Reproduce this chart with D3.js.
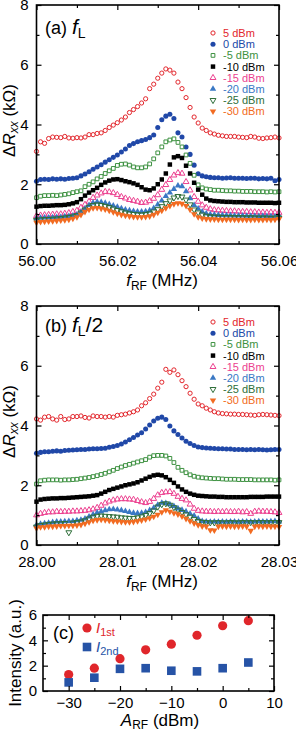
<!DOCTYPE html>
<html><head><meta charset="utf-8">
<script src="https://cdn.jsdelivr.net/npm/d3@7"></script>
<style>body{margin:0;background:#fff}svg{display:block}text{font-family:"Liberation Sans",Arial,sans-serif}</style>
</head><body><svg id="c" width="296" height="732"></svg>
<script>
// ---------- data ----------
const freqA = [56.000,56.001,56.002,56.003,56.004,56.005,56.006,56.007,56.008,56.009,56.010,56.011,56.012,56.013,56.014,56.015,56.016,56.017,56.018,56.019,56.020,56.021,56.022,56.023,56.024,56.025,56.026,56.027,56.028,56.029,56.030,56.031,56.032,56.033,56.034,56.035,56.036,56.037,56.038,56.039,56.040,56.041,56.042,56.043,56.044,56.045,56.046,56.047,56.048,56.049,56.050,56.051,56.052,56.053,56.054,56.055,56.056,56.057,56.058,56.059,56.060];
const freqB = [28.0000,28.0005,28.0010,28.0015,28.0020,28.0025,28.0030,28.0035,28.0040,28.0045,28.0050,28.0055,28.0060,28.0065,28.0070,28.0075,28.0080,28.0085,28.0090,28.0095,28.0100,28.0105,28.0110,28.0115,28.0120,28.0125,28.0130,28.0135,28.0140,28.0145,28.0150,28.0155,28.0160,28.0165,28.0170,28.0175,28.0180,28.0185,28.0190,28.0195,28.0200,28.0205,28.0210,28.0215,28.0220,28.0225,28.0230,28.0235,28.0240,28.0245,28.0250,28.0255,28.0260,28.0265,28.0270,28.0275,28.0280,28.0285,28.0290,28.0295,28.0300];
const powerLabels = ["5 dBm","0 dBm","-5 dBm","-10 dBm","-15 dBm","-20 dBm","-25 dBm","-30 dBm"];

// panel (a): f_L
const a_p5 = [3.1,3.42,3.37,3.53,3.58,3.57,3.56,3.6,3.55,3.54,3.56,3.55,3.58,3.66,3.66,3.7,3.72,3.8,3.9,3.98,4.06,4.15,4.25,4.4,4.5,4.6,4.72,4.86,5.2,5.35,5.55,5.72,5.86,5.82,5.72,5.42,5.2,4.9,4.57,4.25,4.05,3.88,3.8,3.72,3.68,3.64,3.62,3.6,3.6,3.6,3.58,3.57,3.56,3.6,3.58,3.54,3.53,3.55,3.56,3.58,3.55];
const a_0 = [2.1,2.16,2.17,2.16,2.18,2.17,2.18,2.17,2.19,2.2,2.22,2.28,2.34,2.42,2.5,2.58,2.65,2.74,2.82,2.9,2.98,3.08,3.18,3.3,3.36,3.42,3.46,3.5,3.56,3.65,3.9,4.16,4.28,4.34,4.2,3.72,3.58,3.25,3.0,2.64,2.35,2.28,2.25,2.23,2.22,2.22,2.2,2.21,2.22,2.2,2.2,2.2,2.19,2.2,2.2,2.18,2.19,2.18,2.2,2.12,2.16];
const a_m5 = [1.55,1.6,1.62,1.62,1.63,1.62,1.64,1.66,1.68,1.72,1.75,1.78,1.92,2.0,2.08,2.18,2.26,2.36,2.45,2.53,2.63,2.67,2.68,2.64,2.58,2.55,2.55,2.58,2.68,2.85,3.05,3.25,3.42,3.48,3.52,3.4,3.25,2.98,2.7,2.3,1.98,1.88,1.84,1.82,1.8,1.8,1.79,1.78,1.78,1.77,1.77,1.76,1.76,1.76,1.75,1.75,1.75,1.74,1.75,1.74,1.75];
const a_m10 = [1.25,1.27,1.28,1.28,1.29,1.3,1.3,1.31,1.33,1.36,1.4,1.5,1.62,1.72,1.8,1.88,1.98,2.06,2.12,2.16,2.17,2.14,2.1,2.07,2.03,1.98,1.9,1.82,1.8,1.86,2.0,2.16,2.36,2.66,2.9,2.94,2.88,2.62,2.36,2.05,1.82,1.65,1.52,1.46,1.44,1.43,1.42,1.41,1.41,1.4,1.4,1.4,1.39,1.39,1.39,1.38,1.38,1.38,1.38,1.37,1.38];
const a_m15 = [0.94,0.96,0.97,0.98,0.99,1.0,1.0,1.02,1.04,1.08,1.12,1.22,1.32,1.42,1.55,1.63,1.7,1.75,1.74,1.71,1.65,1.58,1.53,1.48,1.45,1.42,1.38,1.39,1.44,1.52,1.64,1.82,1.98,2.15,2.3,2.38,2.36,2.08,1.8,1.58,1.42,1.3,1.22,1.17,1.14,1.13,1.12,1.11,1.1,1.1,1.09,1.08,1.08,1.07,1.07,1.06,1.06,1.05,1.06,1.05,1.05];
const a_m20 = [0.86,0.87,0.88,0.88,0.89,0.9,0.9,0.92,0.93,0.95,0.98,1.06,1.18,1.3,1.38,1.41,1.4,1.37,1.33,1.28,1.24,1.19,1.15,1.12,1.1,1.08,1.08,1.09,1.12,1.2,1.32,1.45,1.6,1.72,1.84,1.95,1.93,1.76,1.53,1.3,1.18,1.08,1.02,0.99,0.98,0.97,0.97,0.96,0.96,0.95,0.95,0.95,0.94,0.94,0.94,0.93,0.94,0.93,0.93,0.92,0.94];
const a_m25 = [0.8,0.82,0.83,0.83,0.84,0.85,0.86,0.88,0.9,0.92,0.96,1.05,1.15,1.24,1.3,1.32,1.3,1.27,1.23,1.18,1.13,1.09,1.05,1.02,1.0,0.99,0.98,1.0,1.02,1.08,1.16,1.26,1.36,1.45,1.55,1.6,1.58,1.48,1.32,1.15,1.05,0.98,0.94,0.92,0.91,0.91,0.9,0.9,0.9,0.89,0.89,0.89,0.88,0.89,0.88,0.88,0.88,0.88,0.87,0.88,0.88];
const a_m30 = [0.72,0.74,0.75,0.76,0.77,0.78,0.79,0.8,0.82,0.85,0.9,0.98,1.08,1.15,1.2,1.21,1.19,1.16,1.12,1.07,1.02,0.98,0.95,0.93,0.91,0.9,0.9,0.91,0.93,0.98,1.05,1.12,1.2,1.28,1.34,1.37,1.35,1.28,1.15,1.0,0.9,0.86,0.84,0.83,0.83,0.82,0.82,0.82,0.82,0.82,0.81,0.82,0.81,0.81,0.82,0.81,0.81,0.82,0.81,0.82,0.84];

// panel (b): f_L/2
const b_p5 = [4.22,4.18,4.28,4.3,4.22,4.18,4.3,4.2,4.22,4.3,4.3,4.32,4.27,4.25,4.32,4.3,4.3,4.28,4.3,4.28,4.34,4.36,4.38,4.42,4.46,4.52,4.66,4.76,4.9,5.05,5.25,5.45,5.88,5.78,5.86,5.7,5.5,5.3,5.08,4.88,4.72,4.66,4.58,4.52,4.46,4.42,4.4,4.39,4.38,4.38,4.37,4.37,4.36,4.35,4.34,4.36,4.37,4.36,4.35,4.34,4.33];
const b_0 = [3.07,3.1,3.12,3.12,3.14,3.15,3.14,3.16,3.17,3.18,3.19,3.2,3.2,3.21,3.22,3.22,3.23,3.24,3.27,3.3,3.33,3.38,3.45,3.52,3.6,3.68,3.76,3.88,4.02,4.15,4.24,4.28,4.2,3.98,3.82,3.7,3.58,3.47,3.4,3.33,3.28,3.26,3.25,3.24,3.23,3.22,3.22,3.21,3.21,3.2,3.2,3.2,3.19,3.2,3.19,3.2,3.19,3.18,3.19,3.2,3.2];
const b_m5 = [2.04,2.15,2.17,2.18,2.18,2.18,2.17,2.18,2.18,2.19,2.2,2.22,2.24,2.26,2.29,2.32,2.36,2.4,2.45,2.5,2.56,2.61,2.66,2.7,2.74,2.78,2.82,2.86,2.94,2.99,3.0,3.0,2.98,2.9,2.76,2.6,2.5,2.42,2.35,2.3,2.27,2.25,2.24,2.23,2.22,2.22,2.21,2.2,2.2,2.2,2.19,2.19,2.19,2.19,2.18,2.18,2.18,2.18,2.18,2.17,2.18];
const b_m10 = [1.45,1.52,1.54,1.55,1.56,1.56,1.57,1.57,1.58,1.59,1.6,1.61,1.62,1.63,1.65,1.67,1.72,1.78,1.84,1.88,1.92,1.96,2.0,2.03,2.06,2.1,2.16,2.22,2.28,2.33,2.35,2.33,2.27,2.18,2.08,1.96,1.86,1.78,1.72,1.68,1.65,1.64,1.63,1.62,1.62,1.61,1.61,1.6,1.6,1.6,1.6,1.6,1.6,1.61,1.61,1.61,1.61,1.62,1.62,1.62,1.62];
const b_m15 = [1.0,1.05,1.08,1.1,1.1,1.12,1.11,1.12,1.12,1.13,1.13,1.14,1.15,1.17,1.2,1.25,1.32,1.4,1.46,1.5,1.53,1.54,1.54,1.53,1.52,1.48,1.44,1.41,1.45,1.55,1.67,1.75,1.77,1.78,1.72,1.62,1.55,1.5,1.36,1.22,1.15,1.13,1.12,1.12,1.11,1.12,1.11,1.12,1.11,1.11,1.12,1.1,1.11,1.05,1.12,1.13,1.12,1.12,1.11,1.1,1.08];
const b_m20 = [0.67,0.7,0.72,0.74,0.76,0.78,0.78,0.79,0.8,0.8,0.82,0.84,0.88,0.95,1.02,1.08,1.12,1.16,1.19,1.2,1.18,1.16,1.13,1.1,1.07,1.06,1.07,1.1,1.16,1.24,1.34,1.41,1.4,1.36,1.3,1.22,1.17,1.12,1.05,0.98,0.88,0.8,0.78,0.77,0.78,0.77,0.78,0.77,0.78,0.78,0.77,0.78,0.78,0.77,0.78,0.79,0.78,0.78,0.79,0.8,0.78];
const b_m25 = [0.61,0.66,0.68,0.7,0.71,0.72,0.72,0.73,0.42,0.74,0.76,0.78,0.82,0.88,0.94,0.97,0.98,0.97,0.96,0.95,0.94,0.92,0.91,0.9,0.9,0.92,0.95,1.0,1.06,1.15,1.28,1.36,1.39,1.34,1.26,1.18,1.1,1.02,0.94,0.86,0.8,0.77,0.76,0.75,0.75,0.76,0.75,0.75,0.76,0.75,0.75,0.76,0.75,0.76,0.75,0.76,0.76,0.75,0.76,0.76,0.76];
const b_m30 = [0.56,0.6,0.6,0.62,0.62,0.63,0.64,0.64,0.65,0.65,0.66,0.68,0.72,0.77,0.82,0.84,0.85,0.84,0.82,0.8,0.79,0.78,0.77,0.77,0.78,0.8,0.83,0.86,0.9,0.95,1.02,1.1,1.17,1.12,1.07,1.03,0.96,0.88,0.8,0.73,0.67,0.63,0.62,0.5,0.49,0.62,0.63,0.62,0.63,0.62,0.62,0.63,0.62,0.48,0.62,0.63,0.62,0.63,0.62,0.62,0.61];

// panel (c)
const ampRF = [-30,-25,-20,-15,-10,-5,0,5];
const i1st = [1.3,1.8,2.55,3.25,3.7,4.4,5.15,5.55];
const i2nd = [0.68,1.05,1.75,1.8,1.6,1.55,1.8,2.25];

// ticks
const xTicksA = [56.00,56.02,56.04,56.06], xMinorA = [56.01,56.03,56.05];
const xTicksB = [28.00,28.01,28.02,28.03], xMinorB = [28.005,28.015,28.025];
const yTicksAB = [0,2,4,6,8], yMinorAB = [1,3,5,7];
const xTicksC = [-30,-20,-10,0,10], xMinorC = [-25,-15,-5,5];
const yTicksC = [0,2,4,6], yMinorC = [1,3,5];

// ---------- styling ----------
const styles = [
  {color:"#e3262c", shape:"circle",   filled:false},
  {color:"#2048a8", shape:"circle",   filled:true},
  {color:"#3d9140", shape:"square",   filled:false},
  {color:"#000000", shape:"square",   filled:true},
  {color:"#ec3f8f", shape:"triangle", filled:false},
  {color:"#3a78c4", shape:"triangle", filled:true},
  {color:"#2f6f3a", shape:"tridown",  filled:false},
  {color:"#f26b21", shape:"tridown",  filled:true}
];
const svg = d3.select("#c");

function symPath(shape, filled){
  if (shape==="circle") return d3.symbol(d3.symbolCircle, filled?20:14)();
  if (shape==="square") return d3.symbol(d3.symbolSquare, filled?20:14)();
  return d3.symbol(d3.symbolTriangle, filled?18:15)();
}
function drawMark(g, st, px, py){
  const p = g.append("path").attr("d", symPath(st.shape, st.filled))
    .attr("transform", `translate(${px},${py})` + (st.shape==="tridown"?" rotate(180)":""));
  if (st.filled) p.attr("fill", st.color).attr("stroke","none");
  else p.attr("fill","none").attr("stroke", st.color).attr("stroke-width",1);
}

function frame(L,R,T,B, xs, ys, xMaj, xMin, yMaj, yMin, xFmt, xPad, yPad){
  const g = svg.append("g");
  const ax = (gen, tr) => g.append("g").attr("transform", tr).call(gen)
     .call(s=>s.select(".domain").remove())
     .call(s=>s.selectAll("line").attr("stroke","#000").attr("stroke-width",1.2))
     .call(s=>s.selectAll("text").attr("font-size",15).attr("fill","#000").attr("font-family","Liberation Sans, Arial, sans-serif"));
  ax(d3.axisBottom(xs).tickValues(xMaj).tickSize(-5).tickPadding(xPad).tickFormat(xFmt), `translate(0,${B})`);
  ax(d3.axisBottom(xs).tickValues(xMin).tickSize(-3).tickFormat(""), `translate(0,${B})`);
  ax(d3.axisTop(xs).tickValues(xMaj).tickSize(-5).tickFormat(""), `translate(0,${T})`);
  ax(d3.axisTop(xs).tickValues(xMin).tickSize(-3).tickFormat(""), `translate(0,${T})`);
  ax(d3.axisLeft(ys).tickValues(yMaj).tickSize(-5).tickPadding(yPad).tickFormat(d3.format("d")), `translate(${L},0)`);
  ax(d3.axisLeft(ys).tickValues(yMin).tickSize(-3).tickFormat(""), `translate(${L},0)`);
  ax(d3.axisRight(ys).tickValues(yMaj).tickSize(-5).tickFormat(""), `translate(${R},0)`);
  ax(d3.axisRight(ys).tickValues(yMin).tickSize(-3).tickFormat(""), `translate(${R},0)`);
  g.append("rect").attr("x",L).attr("y",T).attr("width",R-L).attr("height",B-T)
    .attr("fill","none").attr("stroke","#000").attr("stroke-width",1.6);
}

function sweepPanel(T,B, freq, series, xMaj, xMin, labelTxt, half, legTop, labBase){
  const L=36.5, R=279;
  const x = d3.scaleLinear().domain([freq[0], freq[freq.length-1]]).range([L,R]);
  const y = d3.scaleLinear().domain([0,8]).range([B,T]);
  const gd = svg.append("g");
  series.forEach((vals, k)=>{
    const st = styles[k];
    const gs = gd.append("g");
    vals.forEach((v,i)=> drawMark(gs, st, x(freq[i]), y(v)));
  });
  frame(L,R,T,B,x,y,xMaj,xMin,yTicksAB,yMinorAB,d3.format(".2f"),11,8);
  // legend
  const lg = svg.append("g");
  powerLabels.forEach((t,k)=>{
    const yy = T + legTop + k*11.2;
    drawMark(lg, styles[k], 213, yy);
    lg.append("text").attr("x",223).attr("y",yy+4).attr("font-size",11).attr("fill",styles[k].color).text(t);
  });
  // panel label
  const pl = svg.append("text").attr("x",45).attr("y",T+labBase).attr("font-size",18).attr("fill","#000");
  pl.append("tspan").text(labelTxt+" ");
  pl.append("tspan").attr("font-style","italic").attr("font-size",21).text("f");
  pl.append("tspan").attr("font-size",14).attr("dy",4).text("L");
  if (half) pl.append("tspan").attr("font-size",21).attr("dy",-4).text("/2");
  // y label
  const yl = svg.append("text").attr("transform",`translate(15,${(T+B)/2-4}) rotate(-90)`)
    .attr("text-anchor","middle").attr("font-size",17);
  yl.append("tspan").text("Δ");
  yl.append("tspan").attr("font-style","italic").text("R");
  yl.append("tspan").attr("font-style","italic").attr("font-size",12).attr("dy",3).text("xx");
  yl.append("tspan").attr("dy",-3).text(" (kΩ)");
  // x label
  const xl = svg.append("text").attr("x",162).attr("y",B+42).attr("text-anchor","middle").attr("font-size",17);
  xl.append("tspan").attr("font-style","italic").text("f");
  xl.append("tspan").attr("font-size",12).attr("dy",4).text("RF");
  xl.append("tspan").attr("dy",-4).text(" (MHz)");
}

sweepPanel(5,244,freqA,[a_p5,a_0,a_m5,a_m10,a_m15,a_m20,a_m25,a_m30],xTicksA,xMinorA,"(a)",false,28,29);
sweepPanel(306,545,freqB,[b_p5,b_0,b_m5,b_m10,b_m15,b_m20,b_m25,b_m30],xTicksB,xMinorB,"(b)",true,16,26);

// panel (c)
(function(){
  const L=43,R=274,T=615,B=691;
  const x = d3.scaleLinear().domain([-35,10]).range([L,R]);
  const y = d3.scaleLinear().domain([0,6]).range([B,T]);
  const red="#e0262b", blue="#2653a6";
  const g = svg.append("g");
  g.selectAll("circle.i1").data(ampRF).join("circle")
    .attr("cx",d=>x(d)).attr("cy",(d,i)=>y(i1st[i])).attr("r",4.6).attr("fill",red);
  g.selectAll("rect.i2").data(ampRF).join("rect")
    .attr("x",d=>x(d)-4.3).attr("y",(d,i)=>y(i2nd[i])-4.3).attr("width",8.6).attr("height",8.6).attr("fill",blue);
  frame(L,R,T,B,x,y,xTicksC,xMinorC,yTicksC,yMinorC,d3.format("d"),6,6);
  svg.append("text").attr("x",53).attr("y",639).attr("font-size",18).text("(c)");
  svg.append("circle").attr("cx",87).attr("cy",628).attr("r",4.6).attr("fill",red);
  svg.append("rect").attr("x",82.7).attr("y",642.7).attr("width",8.6).attr("height",8.6).attr("fill",blue);
  const t1 = svg.append("text").attr("x",96).attr("y",633).attr("font-size",15).attr("fill",red);
  t1.append("tspan").attr("font-style","italic").text("I");
  t1.append("tspan").attr("font-size",11).attr("dy",3).text("1st");
  const t2 = svg.append("text").attr("x",96).attr("y",652).attr("font-size",15).attr("fill",blue);
  t2.append("tspan").attr("font-style","italic").text("I");
  t2.append("tspan").attr("font-size",11).attr("dy",3).text("2nd");
  svg.append("text").attr("transform","translate(21,653) rotate(-90)").attr("text-anchor","middle")
    .attr("font-size",17).text("Intensity (a.u.)");
  const xl = svg.append("text").attr("x",160).attr("y",726).attr("text-anchor","middle").attr("font-size",17);
  xl.append("tspan").attr("font-style","italic").text("A");
  xl.append("tspan").attr("font-size",12).attr("dy",3).text("RF");
  xl.append("tspan").attr("dy",-3).text(" (dBm)");
})();
</script>
</body></html>
